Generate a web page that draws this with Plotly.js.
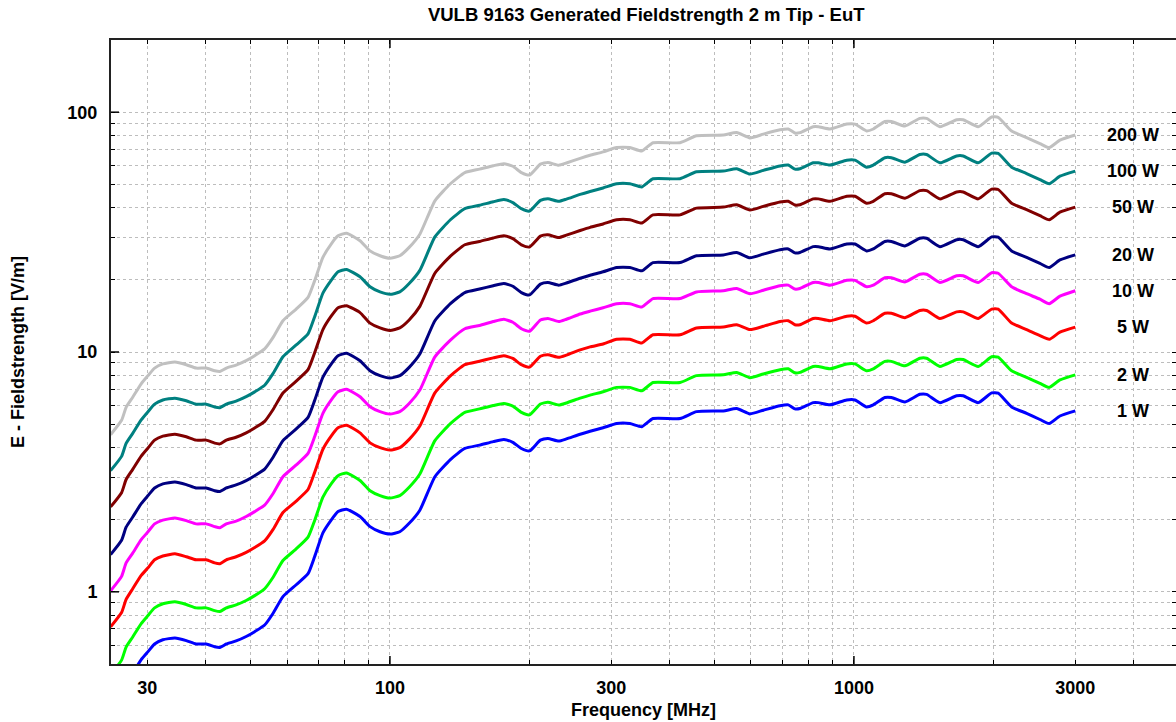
<!DOCTYPE html>
<html>
<head>
<meta charset="utf-8">
<script src="https://cdn.plot.ly/plotly-3.0.1.min.js"></script>
<style>
html,body{margin:0;padding:0;background:#fff;}
#chart{width:1176px;height:722px;}
</style>
</head>
<body>
<div id="chart"></div>
<script>
// Frequency axis [MHz]
const freqMHz = [25.0,26.4,27.0,27.9,29.1,30.1,31.1,32.4,34.4,36.4,
  38.2,40.2,41.9,43.0,44.4,46.6,49.0,51.1,53.7,56.0,
  58.8,62.8,66.6,68.8,71.7,74.7,77.3,80.6,86.2,90.6,
  95.2,100,105,110,116,125,135,145,156,167,
  176,184,192,200,211,219,231,240,257,270,
  288,308,329,349,369,422,458,523,559,597,
  638,693,722,746,765,817,838,888,965,1005,
  1065,1101,1166,1205,1288,1387,1434,1532,1665,1720,
  1853,1981,2046,2187,2356,2517,2636,2780,3000];

// Field strength [V/m] per forward power
const e1W = [0.320,0.367,0.416,0.458,0.521,0.563,0.606,0.631,0.642,0.626,
  0.606,0.606,0.590,0.586,0.606,0.624,0.651,0.682,0.727,0.814,
  0.955,1.07,1.19,1.40,1.76,1.99,2.16,2.21,2.06,1.87,
  1.78,1.74,1.78,1.93,2.19,3.02,3.56,3.96,4.09,4.23,
  4.32,4.20,3.96,3.87,4.29,4.36,4.25,4.34,4.54,4.67,
  4.83,5.03,5.03,4.88,5.28,5.28,5.64,5.68,5.81,5.52,
  5.72,5.97,6.02,5.79,5.81,6.15,6.15,6.02,6.31,6.31,
  5.90,6.02,6.46,6.46,6.19,6.66,6.66,6.15,6.57,6.57,
  6.15,6.75,6.73,5.90,5.55,5.23,5.03,5.41,5.68];
const e2W = [0.452,0.519,0.588,0.648,0.737,0.797,0.857,0.892,0.908,0.885,
  0.857,0.857,0.835,0.828,0.857,0.882,0.920,0.964,1.03,1.15,
  1.35,1.51,1.69,1.98,2.48,2.82,3.05,3.13,2.91,2.64,
  2.52,2.46,2.52,2.73,3.10,4.27,5.03,5.60,5.79,5.98,
  6.10,5.95,5.60,5.47,6.07,6.17,6.01,6.13,6.42,6.61,
  6.83,7.12,7.12,6.89,7.46,7.46,7.97,8.03,8.22,7.81,
  8.10,8.44,8.51,8.19,8.22,8.70,8.70,8.51,8.92,8.92,
  8.35,8.51,9.14,9.14,8.76,9.42,9.42,8.70,9.30,9.30,
  8.70,9.55,9.52,8.35,7.84,7.40,7.12,7.65,8.03];
const e5W = [0.715,0.820,0.930,1.03,1.17,1.26,1.36,1.41,1.44,1.40,
  1.36,1.36,1.32,1.31,1.36,1.40,1.46,1.53,1.63,1.82,
  2.14,2.39,2.67,3.14,3.93,4.46,4.83,4.95,4.60,4.18,
  3.99,3.90,3.99,4.32,4.91,6.75,7.95,8.85,9.15,9.45,
  9.65,9.40,8.85,8.65,9.60,9.75,9.50,9.70,10.2,10.5,
  10.8,11.3,11.3,10.9,11.8,11.8,12.6,12.7,13.0,12.4,
  12.8,13.4,13.5,13.0,13.0,13.8,13.8,13.5,14.1,14.1,
  13.2,13.5,14.5,14.5,13.9,14.9,14.9,13.8,14.7,14.7,
  13.8,15.1,15.1,13.2,12.4,11.7,11.3,12.1,12.7];
const e10W = [1.01,1.16,1.32,1.45,1.65,1.78,1.92,1.99,2.03,1.98,
  1.92,1.92,1.87,1.85,1.92,1.97,2.06,2.16,2.30,2.57,
  3.02,3.38,3.78,4.43,5.55,6.30,6.82,6.99,6.51,5.91,
  5.64,5.51,5.64,6.10,6.94,9.55,11.2,12.5,12.9,13.4,
  13.7,13.3,12.5,12.2,13.6,13.8,13.4,13.7,14.4,14.8,
  15.3,15.9,15.9,15.4,16.7,16.7,17.8,18.0,18.4,17.5,
  18.1,18.9,19.0,18.3,18.4,19.5,19.5,19.0,19.9,19.9,
  18.7,19.0,20.4,20.4,19.6,21.1,21.1,19.5,20.8,20.8,
  19.5,21.4,21.3,18.7,17.5,16.6,15.9,17.1,18.0];
const e20W = [1.43,1.64,1.86,2.05,2.33,2.52,2.71,2.82,2.87,2.80,
  2.71,2.71,2.64,2.62,2.71,2.79,2.91,3.05,3.25,3.64,
  4.27,4.78,5.34,6.27,7.85,8.91,9.65,9.89,9.20,8.36,
  7.97,7.79,7.97,8.63,9.81,13.5,15.9,17.7,18.3,18.9,
  19.3,18.8,17.7,17.3,19.2,19.5,19.0,19.4,20.3,20.9,
  21.6,22.5,22.5,21.8,23.6,23.6,25.2,25.4,26.0,24.7,
  25.6,26.7,26.9,25.9,26.0,27.5,27.5,26.9,28.2,28.2,
  26.4,26.9,28.9,28.9,27.7,29.8,29.8,27.5,29.4,29.4,
  27.5,30.2,30.1,26.4,24.8,23.4,22.5,24.2,25.4];
const e50W = [2.26,2.59,2.94,3.24,3.68,3.98,4.29,4.46,4.54,4.43,
  4.29,4.29,4.17,4.14,4.29,4.41,4.60,4.82,5.14,5.76,
  6.75,7.56,8.44,9.91,12.4,14.1,15.3,15.6,14.6,13.2,
  12.6,12.3,12.6,13.6,15.5,21.3,25.1,28.0,28.9,29.9,
  30.5,29.7,28.0,27.4,30.4,30.8,30.0,30.7,32.1,33.1,
  34.2,35.6,35.6,34.5,37.3,37.3,39.8,40.2,41.1,39.1,
  40.5,42.2,42.5,41.0,41.1,43.5,43.5,42.5,44.6,44.6,
  41.7,42.5,45.7,45.7,43.8,47.1,47.1,43.5,46.5,46.5,
  43.5,47.8,47.6,41.7,39.2,37.0,35.6,38.3,40.2];
const e100W = [3.20,3.67,4.16,4.58,5.21,5.64,6.06,6.31,6.42,6.26,
  6.06,6.06,5.90,5.86,6.06,6.24,6.51,6.82,7.27,8.14,
  9.55,10.7,11.9,14.0,17.6,19.9,21.6,22.1,20.6,18.7,
  17.8,17.4,17.8,19.3,21.9,30.2,35.6,39.6,40.9,42.3,
  43.2,42.0,39.6,38.7,42.9,43.6,42.5,43.4,45.4,46.7,
  48.3,50.3,50.3,48.8,52.8,52.8,56.4,56.8,58.1,55.2,
  57.2,59.7,60.2,57.9,58.1,61.5,61.5,60.2,63.1,63.1,
  59.0,60.2,64.6,64.6,61.9,66.6,66.6,61.5,65.7,65.7,
  61.5,67.5,67.3,59.0,55.5,52.3,50.3,54.1,56.8];
const e200W = [4.52,5.19,5.88,6.48,7.37,7.97,8.57,8.92,9.08,8.85,
  8.57,8.57,8.35,8.29,8.57,8.82,9.20,9.65,10.3,11.5,
  13.5,15.1,16.9,19.8,24.8,28.2,30.5,31.3,29.1,26.4,
  25.2,24.6,25.2,27.3,31.0,42.7,50.3,56.0,57.9,59.8,
  61.0,59.5,56.0,54.7,60.7,61.7,60.1,61.4,64.2,66.1,
  68.3,71.2,71.2,68.9,74.6,74.6,79.7,80.3,82.2,78.1,
  81.0,84.4,85.1,81.9,82.2,87.0,87.0,85.1,89.2,89.2,
  83.5,85.1,91.4,91.4,87.6,94.2,94.2,87.0,93.0,93.0,
  87.0,95.5,95.2,83.5,78.4,74.0,71.2,76.5,80.3];

const seriesLabels = ['1 W','2 W','5 W','10 W','20 W','50 W','100 W','200 W'];
const seriesValues = [e1W,e2W,e5W,e10W,e20W,e50W,e100W,e200W];
const seriesColors = ['#0000ff','#00ff00','#ff0000','#ff00ff','#000080','#800000','#008080','#c0c0c0'];
const labelFreq = 4000;

const xTickVals = [30,100,300,1000,3000];
const xTickText = ['30','100','300','1000','3000'];
const xMinorVals = [40,50,60,70,80,90,200,400,500,600,700,800,900,2000,4000];
const xLongTicks = [100,1000];
const yTickVals = [1,10,100];
const yTickText = ['1','10','100'];
const yMinorVals = [0.5,0.6,0.7,0.8,0.9,2,3,4,5,6,7,8,9,20,30,40,50,60,70,80,90];

const FONT = 'Liberation Sans, Arial, Helvetica, sans-serif';
const GRID = '#bdbdbd';

const traces = seriesValues.map((vals, i) => ({
  x: freqMHz, y: vals, type: 'scatter', mode: 'lines', name: seriesLabels[i],
  line: {color: seriesColors[i], width: 3, shape: 'spline', smoothing: 0.5}, hoverinfo: 'x+y+name'
}));

const annotations = seriesValues.map((vals, i) => ({
  x: Math.log10(labelFreq), y: Math.log10(vals[vals.length - 1]),
  xref: 'x', yref: 'y', text: seriesLabels[i], showarrow: false,
  xanchor: 'center', yanchor: 'middle',
  font: {family: FONT, size: 18, color: '#000', weight: 'bold'}
}));

const shapes = [];
xLongTicks.forEach(v => {
  shapes.push({type:'line', xref:'x', yref:'paper', ysizemode:'pixel', yanchor:0,
    x0:v, x1:v, y0:0, y1:8, line:{color:'#000', width:1.5}});
  shapes.push({type:'line', xref:'x', yref:'paper', ysizemode:'pixel', yanchor:1,
    x0:v, x1:v, y0:-8, y1:0, line:{color:'#000', width:1.5}});
});
yTickVals.forEach(v => {
  shapes.push({type:'line', xref:'paper', yref:'y', xsizemode:'pixel', xanchor:0,
    x0:0, x1:8, y0:v, y1:v, line:{color:'#000', width:1.5}});
});

const layout = {
  width: 1176, height: 722,
  margin: {l: 111, r: 0, t: 40, b: 58},
  paper_bgcolor: '#fff', plot_bgcolor: '#fff',
  showlegend: false,
  font: {family: FONT, size: 18, color: '#000', weight: 'bold'},
  title: {
    text: 'VULB 9163 Generated Fieldstrength 2 m Tip - EuT',
    font: {family: FONT, size: 18.5, color: '#000', weight: 'bold'},
    x: 0.5495, xanchor: 'center', y: 0.98, yanchor: 'middle', yref: 'container'
  },
  xaxis: {
    type: 'log', range: [Math.log10(25.05), Math.log10(4945)],
    tickmode: 'array', tickvals: xTickVals, ticktext: xTickText,
    ticks: 'inside', ticklen: 4, tickwidth: 1, tickcolor: '#000',
    showgrid: true, gridcolor: GRID, griddash: 'dot', gridwidth: 1,
    minor: {tickmode: 'array', tickvals: xMinorVals, ticks: 'inside', ticklen: 4,
      tickwidth: 1, tickcolor: '#000', showgrid: true, gridcolor: GRID, griddash: 'dot', gridwidth: 1},
    showline: true, linecolor: '#222', linewidth: 2, mirror: 'allticks',
    zeroline: false, ticklabelstandoff: 6,
    tickfont: {family: FONT, size: 18, color: '#000', weight: 'bold'},
    title: {text: 'Frequency [MHz]', standoff: 7,
      font: {family: FONT, size: 18, color: '#000', weight: 'bold'}}
  },
  yaxis: {
    type: 'log', range: [Math.log10(0.5), Math.log10(200)],
    tickmode: 'array', tickvals: yTickVals, ticktext: yTickText,
    ticks: 'inside', ticklen: 4, tickwidth: 1, tickcolor: '#000',
    showgrid: true, gridcolor: GRID, griddash: 'dot', gridwidth: 1,
    minor: {tickmode: 'array', tickvals: yMinorVals, ticks: 'inside', ticklen: 4,
      tickwidth: 1, tickcolor: '#000', showgrid: true, gridcolor: GRID, griddash: 'dot', gridwidth: 1},
    showline: true, linecolor: '#222', linewidth: 2, mirror: 'allticks',
    zeroline: false, ticklabelstandoff: 8,
    tickfont: {family: FONT, size: 18, color: '#000', weight: 'bold'},
    title: {text: 'E - Fieldstrength [V/m]', standoff: 38,
      font: {family: FONT, size: 18, color: '#000', weight: 'bold'}}
  },
  annotations: annotations,
  shapes: shapes
};

Plotly.newPlot('chart', traces, layout, {displayModeBar: false, staticPlot: true});
</script>
</body>
</html>
